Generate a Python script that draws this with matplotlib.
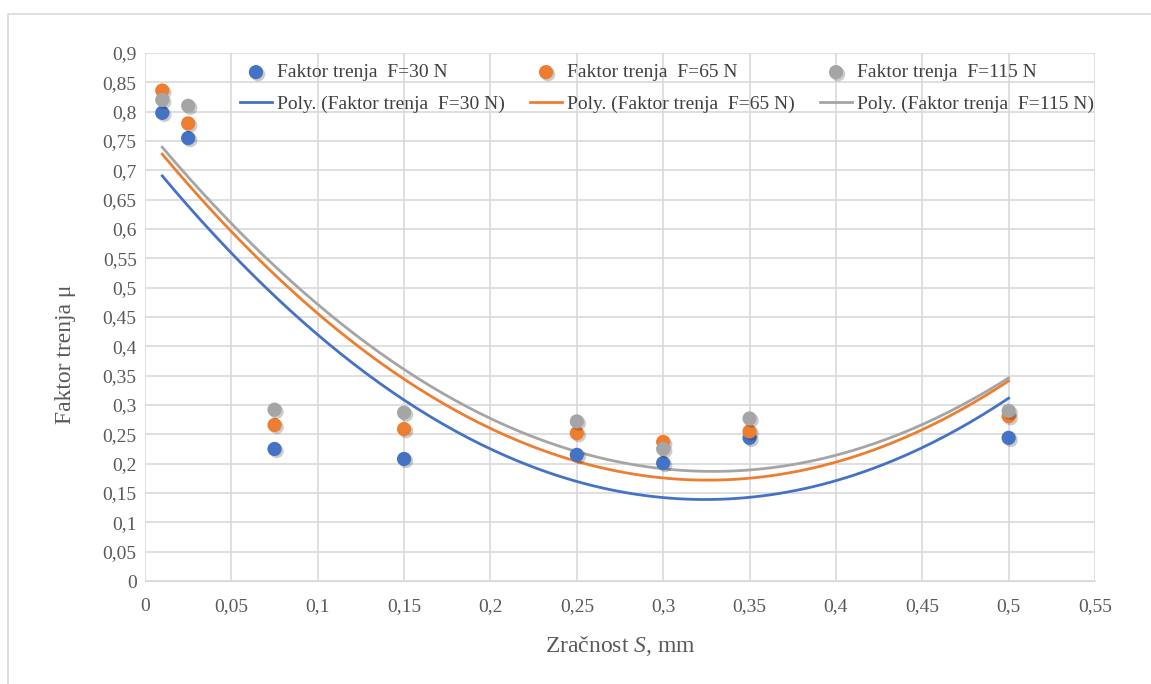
import numpy as np
import matplotlib
matplotlib.use("Agg")
import matplotlib.pyplot as plt
from matplotlib.patches import Rectangle
import matplotlib.patheffects as pe

x = [0.01, 0.025, 0.075, 0.15, 0.25, 0.3, 0.35, 0.5]
f30 = [0.798, 0.755, 0.225, 0.208, 0.215, 0.201, 0.244, 0.244]
f65 = [0.836, 0.780, 0.266, 0.259, 0.252, 0.237, 0.255, 0.281]
f115 = [0.820, 0.810, 0.292, 0.287, 0.272, 0.225, 0.277, 0.290]
names = ["F=30 N", "F=65 N", "F=115 N"]
colors = ["#4472C4", "#ED7D31", "#A5A5A5"]
xticks = [0, 0.05, 0.1, 0.15, 0.2, 0.25, 0.3, 0.35, 0.4, 0.45, 0.5, 0.55]
yticks = [round(i * 0.05, 2) for i in range(19)]

plt.rcParams['font.family'] = ['Liberation Serif', 'DejaVu Serif']
plt.rcParams['mathtext.fontset'] = 'custom'
plt.rcParams['mathtext.rm'] = 'Liberation Serif'
plt.rcParams['mathtext.it'] = 'Liberation Serif:italic'

fig = plt.figure(figsize=(11.51, 6.84), dpi=100)
fig.patches.append(Rectangle((8/1151, -0.1), 1.2, (684-14)/684 + 0.1, transform=fig.transFigure,
                             fill=False, edgecolor="#d9d9d9", lw=1.2))
ax = fig.add_axes([145/1151, 103/684, 950/1151, 528/684])

def fmt(v):
    s = f"{v:.2f}".rstrip("0").rstrip(".")
    return s.replace(".", ",")

scat_handles = []
line_handles = []
xs = np.linspace(min(x), max(x), 200)
for ys, name, c in zip([f30, f65, f115], names, colors):
    sh = ax.scatter(x, ys, s=105, color=c, zorder=3, edgecolors="none",
                    path_effects=[pe.SimplePatchShadow(offset=(1.5, -1.5), shadow_rgbFace="black",
                                                       alpha=0.2), pe.Normal()],
                    label=f"Faktor trenja  {name}")
    coef = np.polyfit(x, ys, 2)
    lh, = ax.plot(xs, np.polyval(coef, xs), color=c, lw=2, zorder=2,
                  label=f"Poly. (Faktor trenja  {name})")
    scat_handles.append(sh)
    line_handles.append(lh)

ax.set_xlim(0, 0.55)
ax.set_ylim(0, 0.9)
ax.set_xticks(xticks)
ax.set_yticks(yticks)
ax.set_xticklabels([fmt(v) for v in xticks])
ax.set_yticklabels([fmt(v) for v in yticks])
ax.grid(True, color="#d9d9d9", lw=1.2)
ax.set_axisbelow(True)
for s in ["top", "right", "left"]:
    ax.spines[s].set_visible(False)
ax.spines["bottom"].set_color("#d9d9d9")
ax.tick_params(axis="x", length=0, labelsize=14, colors="#595959", pad=12)
ax.tick_params(axis="y", length=0, labelsize=14, colors="#595959", pad=6)
ax.set_xlabel("Zračnost $\\mathit{S}$, mm", fontsize=17, color="#595959", labelpad=14)
ax.set_ylabel("Faktor trenja μ", fontsize=17, color="#595959")
ax.yaxis.set_label_coords(-0.073, 0.43)

handles = []
for sh, lh in zip(scat_handles, line_handles):
    handles += [sh, lh]
leg = ax.legend(handles=handles, ncol=3, loc="upper left", bbox_to_anchor=(0.082, 1.013),
                frameon=False, fontsize=14, handlelength=1.6, handletextpad=0.3,
                columnspacing=1.3, labelspacing=0.7)
for t in leg.get_texts():
    t.set_color("#404040")

fig.savefig("out.png", dpi=100)
